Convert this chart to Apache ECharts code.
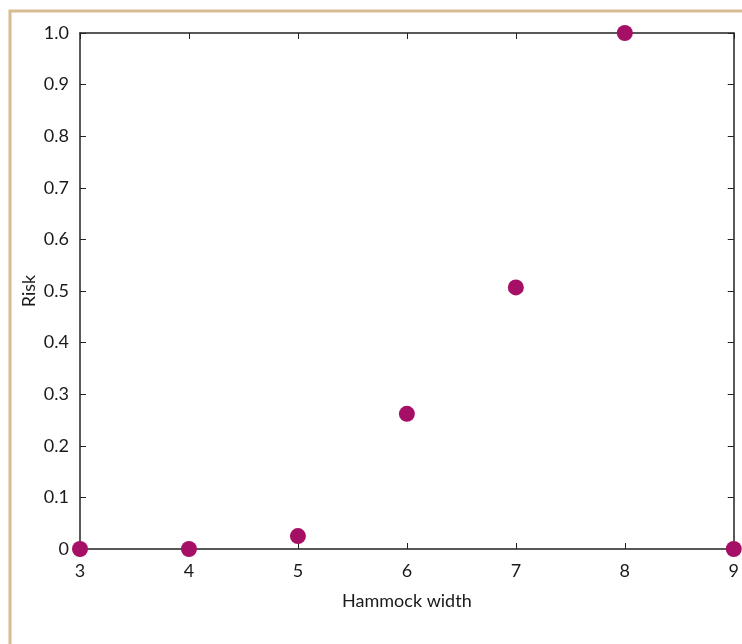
<!DOCTYPE html>
<html><head><meta charset="utf-8">
<script src="https://cdn.jsdelivr.net/npm/echarts@6/dist/echarts.min.js"></script>
<style>html,body{margin:0;padding:0;background:#fff}#c{width:742px;height:644px}</style>
</head><body><div id="c"></div>
<script>
const widths = [3, 4, 5, 6, 7, 8, 9];
const risk = [0, 0, 0.025, 0.262, 0.507, 1.0, 0];
const xTicks = [3, 4, 5, 6, 7, 8, 9];
const yTicks = [0, 0.1, 0.2, 0.3, 0.4, 0.5, 0.6, 0.7, 0.8, 0.9, 1.0];

const font = 'Lato';
const chart = echarts.init(document.getElementById('c'), null, {renderer: 'canvas'});
const axisLine = {show: true, onZero: false, lineStyle: {color: '#222', width: 1.5}};
const tick = {show: true, inside: true, length: 6, lineStyle: {color: '#222', width: 1}};
chart.setOption({
  animation: false,
  backgroundColor: '#fff',
  graphic: [{
    type: 'rect', shape: {x: 10, y: 11, width: 800, height: 700},
    style: {fill: 'none', stroke: '#d9bb93', lineWidth: 3}, z: -10
  }],
  grid: {left: 80, right: 7, top: 33, bottom: 95},
  xAxis: [{
    type: 'value', min: 3, max: 9, interval: 1,
    name: 'Hammock width', nameLocation: 'middle', nameGap: 43, nameMoveOverlap: false,
    nameTextStyle: {fontFamily: font, fontSize: 18, color: '#1a1a1a'},
    axisLine: axisLine, axisTick: tick, splitLine: {show: false},
    axisLabel: {fontFamily: font, fontSize: 18, color: '#1a1a1a', margin: 13}
  }, {
    type: 'value', position: 'top', min: 3, max: 9, interval: 1,
    axisLine: axisLine, axisTick: tick, splitLine: {show: false}, axisLabel: {show: false}
  }],
  yAxis: [{
    type: 'value', min: 0, max: 1, interval: 0.1,
    name: 'Risk', nameLocation: 'middle', nameGap: 42, nameMoveOverlap: false,
    nameTextStyle: {fontFamily: font, fontSize: 18, color: '#1a1a1a'},
    axisLine: axisLine, axisTick: tick, splitLine: {show: false},
    axisLabel: {fontFamily: font, fontSize: 18, color: '#1a1a1a', margin: 11,
      formatter: v => v === 0 ? '0' : v.toFixed(1)}
  }, {
    type: 'value', position: 'right', min: 0, max: 1, interval: 0.1,
    axisLine: axisLine, axisTick: tick, splitLine: {show: false}, axisLabel: {show: false}
  }],
  series: [{
    type: 'scatter', clip: false, symbolSize: 16,
    itemStyle: {color: '#a50f66', opacity: 1},
    data: widths.map((w, i) => [w, risk[i]]), z: 10
  }]
});
</script></body></html>
